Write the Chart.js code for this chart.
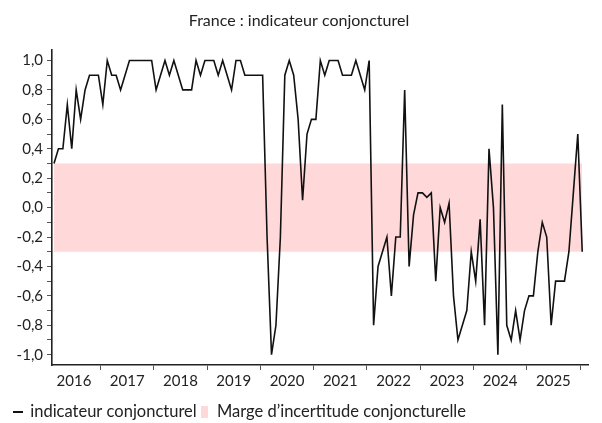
<!DOCTYPE html>
<html>
<head>
<meta charset="utf-8">
<script src="https://cdn.jsdelivr.net/npm/chart.js@4/dist/chart.umd.min.js"></script>
<style>
  html, body { margin: 0; padding: 0; background: #fff; }
</style>
</head>
<body>
<canvas id="graphique" width="602" height="423"></canvas>
<script>
  // indicateur mensuel, de février 2016 à février 2026
  const indicateur = [
    0.3, 0.4, 0.4, 0.7, 0.4, 0.8, 0.6, 0.8, 0.9, 0.9, 0.9,
    0.7, 1.0, 0.9, 0.9, 0.8, 0.9, 1.0, 1.0, 1.0, 1.0, 1.0, 1.0,
    0.8, 0.9, 1.0, 0.9, 1.0, 0.9, 0.8, 0.8, 0.8, 1.0, 0.9, 1.0,
    1.0, 1.0, 0.9, 1.0, 0.9, 0.8, 1.0, 1.0, 0.9, 0.9, 0.9, 0.9,
    0.9, -0.2, -1.0, -0.8, -0.2, 0.9, 1.0, 0.9, 0.6, 0.05, 0.5, 0.6,
    0.6, 1.0, 0.9, 1.0, 1.0, 1.0, 0.9, 0.9, 0.9, 1.0, 0.9, 0.8,
    1.0, -0.8, -0.4, -0.3, -0.2, -0.6, -0.2, -0.2, 0.8, -0.4, -0.05, 0.1,
    0.1, 0.07, 0.1, -0.5, 0.0, -0.1, 0.03, -0.6, -0.9, -0.8, -0.7, -0.3,
    -0.5, -0.08, -0.8, 0.4, 0.0, -1.0, 0.7, -0.8, -0.9, -0.7, -0.9, -0.7,
    -0.6, -0.6, -0.3, -0.1, -0.2, -0.8, -0.5, -0.5, -0.5, -0.3, 0.1, 0.5,
    -0.3
  ];
  const annees = ['2016', '2017', '2018', '2019', '2020', '2021', '2022', '2023', '2024', '2025'];
  const graduationsY = [-1.0, -0.9, -0.8, -0.7, -0.6, -0.5, -0.4, -0.3, -0.2, -0.1, 0.0,
    0.1, 0.2, 0.3, 0.4, 0.5, 0.6, 0.7, 0.8, 0.9, 1.0];
  const margeHaute = 0.3;
  const margeBasse = -0.3;

  const police = 'Lato, "Open Sans", sans-serif';

  // graduations de l'axe des x : traits entre les années, libellés au milieu
  // (indice 0 = février 2016, janvier d'une année n = 11 + 12 * (n - 2017))
  const ticksX = [];
  annees.forEach((annee, k) => {
    ticksX.push({ value: 4.5 + 12 * k, label: annee, trait: false });
    ticksX.push({ value: 10.5 + 12 * k, label: '', trait: true });
  });

  function marqueur(largeur, hauteur, couleur) {
    const c = document.createElement('canvas');
    c.width = largeur;
    c.height = hauteur;
    const g = c.getContext('2d');
    g.fillStyle = couleur;
    g.fillRect(0, 0, largeur, hauteur);
    return c;
  }
  const marqueurLigne = marqueur(10, 2, '#111');
  const marqueurMarge = marqueur(7, 12, '#ffd8da');

  const dernier = indicateur.length - 1;

  // descend un peu la légende, plus près du bas comme dans l'original
  const decalageLegende = {
    id: 'decalageLegende',
    afterLayout(chart) {
      if (chart.legend) {
        chart.legend.top += 7;
        chart.legend.bottom += 7;
      }
    }
  };

  new Chart(document.getElementById('graphique'), {
    type: 'line',
    data: {
      datasets: [
        {
          label: 'indicateur conjoncturel',
          data: indicateur.map((v, i) => ({ x: i, y: v })),
          borderColor: '#111',
          borderWidth: 1.6,
          pointRadius: 0,
          tension: 0,
          fill: false,
          order: 0,
          pointStyle: marqueurLigne
        },
        {
          label: 'Marge d\u2019incertitude conjoncturelle',
          data: [{ x: 0, y: margeHaute }, { x: dernier, y: margeHaute }],
          borderWidth: 0,
          borderColor: 'rgba(0,0,0,0)',
          backgroundColor: '#ffd8da',
          pointRadius: 0,
          fill: { value: margeBasse },
          order: 1,
          pointStyle: marqueurMarge
        }
      ]
    },
    plugins: [decalageLegende],
    options: {
      responsive: false,
      animation: false,
      devicePixelRatio: 1,
      layout: { padding: { left: 10, right: 14, top: 0, bottom: 0 } },
      plugins: {
        title: {
          display: true,
          text: 'France : indicateur conjoncturel',
          color: '#222',
          font: { family: police, size: 16, weight: 'normal' },
          padding: { top: 11, bottom: 20 }
        },
        legend: {
          position: 'bottom',
          align: 'start',
          labels: {
            usePointStyle: true,
            pointStyleWidth: 8,
            boxHeight: 12,
            padding: 4,
            color: '#222',
            font: { family: police, size: 16.5 }
          }
        },
        tooltip: { enabled: false }
      },
      scales: {
        x: {
          type: 'linear',
          min: -0.45,
          max: 120.3,
          afterBuildTicks: (scale) => {
            scale.ticks = ticksX.map(t => ({ value: t.value }));
          },
          afterFit: (scale) => { scale.height = 27.5; },
          ticks: {
            autoSkip: false,
            maxRotation: 0,
            padding: 2,
            color: '#222',
            font: { family: police, size: 15 },
            callback: (value, index) => ticksX[index] ? ticksX[index].label : ''
          },
          grid: {
            drawOnChartArea: false,
            drawTicks: true,
            tickLength: 5,
            tickColor: (ctx) => (ticksX[ctx.index] && ticksX[ctx.index].trait) ? '#555' : 'rgba(0,0,0,0)'
          },
          border: { display: true, color: '#222', width: 1.6 }
        },
        y: {
          min: -1.07,
          max: 1.07,
          afterBuildTicks: (scale) => {
            scale.ticks = graduationsY.map(v => ({ value: v }));
          },
          afterFit: (scale) => { scale.width = 42; },
          ticks: {
            autoSkip: false,
            padding: 4,
            color: '#222',
            font: { family: police, size: 15 },
            callback: (value) => {
              const dixiemes = Math.round(value * 10);
              if (dixiemes % 2 !== 0) return '';
              return (dixiemes / 10).toFixed(1).replace('.', ',');
            }
          },
          grid: {
            drawOnChartArea: false,
            drawTicks: true,
            tickLength: 5,
            tickColor: '#555'
          },
          border: { display: true, color: '#222', width: 1.6 }
        }
      }
    }
  });
</script>
</body>
</html>
